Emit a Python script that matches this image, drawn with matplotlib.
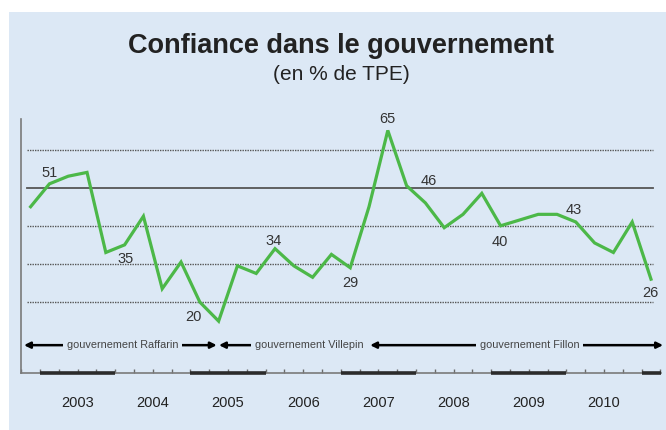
import matplotlib
matplotlib.use("Agg")
import matplotlib.pyplot as plt
from matplotlib.patches import Rectangle

plt.rcParams['font.family'] = ['Liberation Sans', 'DejaVu Sans']

# ---- data (quarterly, Q4 2002 -> Q1 2011) ----
quarters = [2002.875 + 0.25 * i for i in range(34)]
values = [45, 51, 53, 54, 33, 35, 42.5, 23.5, 30.5, 20, 15, 29.5, 27.5, 34,
          29.5, 26.5, 32.5, 29, 45, 65, 50.5, 46, 39.5, 43, 48.5, 40, 41.5,
          43, 43, 41, 35.5, 33, 41, 26]
label_idx = [1, 5, 9, 13, 17, 19, 21, 25, 28, 33]
label_off = [(0, 11), (1, -14), (-6, -15), (-1, 8), (0, -15), (0, 11),
             (3, 22), (-1, -16), (17, 4), (-1, -14)]  # pixel offsets
years = [2003, 2004, 2005, 2006, 2007, 2008, 2009, 2010]
dark_years = [2003, 2005, 2007, 2009, 2011]
govs = ["gouvernement Raffarin", "gouvernement Villepin", "gouvernement Fillon"]
gov_start = [2002.787, 2005.38, 2007.39]
gov_end = [2005.35, 2007.35, 2011.285]
gov_text_x = [2004.10, 2006.58, 2009.51]
grid_dotted = [20, 30, 40, 60]
grid_solid = [50]

W, H = 666, 430
fig = plt.figure(figsize=(W / 100, H / 100), dpi=100, facecolor='white')
bg = '#dce8f5'
fig.patches.append(Rectangle((9 / W, 0), 1 - 9 / W, 1 - 12 / H,
                             transform=fig.transFigure, facecolor=bg,
                             edgecolor='none', zorder=-10))

ax = fig.add_axes([21 / W, 1 - 373 / H, 640 / W, 254 / H])
ax.set_facecolor('none')
ax.set_zorder(5)
xmin, xmax = 2002.747, 2011.258
ax.set_xlim(xmin, xmax)
ax.set_ylim(1.4, 68.0)

for s in ['top', 'right']:
    ax.spines[s].set_visible(False)
for s in ['left', 'bottom']:
    ax.spines[s].set_color('#7a7a7a')
    ax.spines[s].set_linewidth(1.2)

gx0, gx1 = 2002.827, 2011.15
for g in grid_dotted:
    ax.plot([gx0, gx1], [g, g], color='#555555', lw=1.0, ls=(0, (1, 0.8)), zorder=1)
for g in grid_solid:
    ax.plot([gx0, gx1], [g, g], color='#555555', lw=1.3, zorder=1)

ax.plot(quarters, values, color='#4cb848', lw=2.3, zorder=3,
        solid_joinstyle='miter')

for i, (dx, dy) in zip(label_idx, label_off):
    ax.annotate(f"{values[i]:g}", xy=(quarters[i], values[i]),
                xytext=(dx, dy), textcoords='offset pixels',
                ha='center', va='center', fontsize=10.5, color='#333333')

# quarter ticks
qt = [2002.75 + 0.25 * i for i in range(35) if 2002.75 + 0.25 * i <= xmax]
ax.set_xticks(qt)
ax.set_xticklabels([])
ax.set_yticks([])
ax.tick_params(axis='x', direction='in', length=3, width=1, color='#6a6a6a')

# dark year bars
for y in dark_years:
    ax.plot([y, min(y + 1, xmax)], [1.4, 1.4], color='#2b2b2b', lw=2.6,
            solid_capstyle='butt', clip_on=False, zorder=4)

for y in years:
    ax.text(y + 0.5, -0.118, str(y), transform=ax.get_xaxis_transform(),
            ha='center', va='center', fontsize=10.5, color='#222222')

# governments
arrow_y = 8.7
for name, s, e, tx in zip(govs, gov_start, gov_end, gov_text_x):
    ax.annotate('', xy=(e, arrow_y), xytext=(s, arrow_y),
                arrowprops=dict(arrowstyle='<|-|>', color='black', lw=1.8,
                                mutation_scale=9, shrinkA=0, shrinkB=0),
                annotation_clip=False, zorder=5)
    ax.text(tx, arrow_y, name, ha='center', va='center', fontsize=7.8,
            color='#444444', zorder=6,
            bbox=dict(boxstyle='square,pad=0.35', facecolor=bg, edgecolor='none'))

fig.text(341 / W, 1 - 46 / H, "Confiance dans le gouvernement", ha='center',
         va='center', fontsize=19.5, fontweight='bold', color='#222222')
fig.text(341 / W, 1 - 75 / H, "(en % de TPE)", ha='center', va='center',
         fontsize=15, color='#222222')

fig.savefig('out.png', dpi=100, facecolor='white')
